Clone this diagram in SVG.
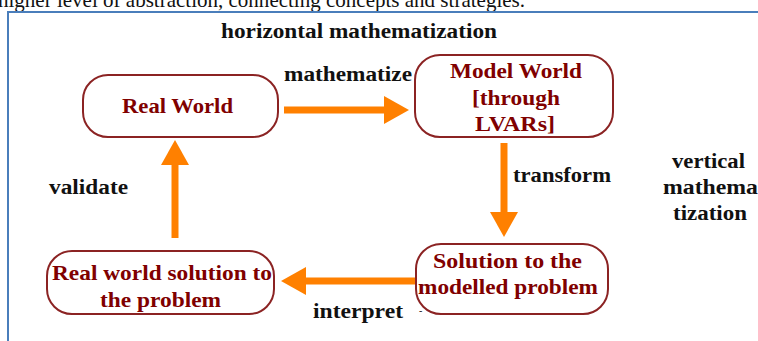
<svg xmlns="http://www.w3.org/2000/svg" width="758" height="341" viewBox="0 0 758 341">
<style>
  .frame{stroke:#4a7ebb;stroke-width:2;fill:none}
  .node{fill:#fff;stroke:#8b2323;stroke-width:2}
  .nt{font-family:"Liberation Serif","Times New Roman",serif;font-weight:bold;font-size:21px;fill:#800000;text-anchor:start}
  .lbl{font-family:"Liberation Serif","Times New Roman",serif;font-weight:bold;font-size:20px;fill:#111}
  .arr{stroke:#ff8000;stroke-width:7;fill:none}
  .top{font-family:"Liberation Serif","Times New Roman",serif;font-size:22px;fill:#111}
</style>
<defs>
  <marker id="head" markerUnits="userSpaceOnUse" markerWidth="26" markerHeight="30" refX="1" refY="14" orient="auto">
    <path d="M0,0 L25,14 L0,28 z" fill="#ff8000"/>
  </marker>
</defs>
<rect width="758" height="341" fill="#fff"/>
<text class="top" x="-2" y="7" textLength="527" lengthAdjust="spacingAndGlyphs">higher level of abstraction, connecting concepts and strategies.</text>
<path class="frame" d="M8,341 V12 H758"/>

<g id="connectors">
  <line class="arr" x1="284" y1="110" x2="385" y2="110" marker-end="url(#head)"/>
  <line class="arr" x1="504" y1="143" x2="504" y2="213" marker-end="url(#head)"/>
  <line class="arr" x1="416" y1="281" x2="305" y2="281" marker-end="url(#head)"/>
  <line class="arr" x1="175" y1="238" x2="175" y2="164" marker-end="url(#head)"/>
</g>

<g id="labels">
  <text class="lbl" x="221" y="38" textLength="276" lengthAdjust="spacingAndGlyphs">horizontal mathematization</text>
  <text class="lbl" x="284" y="81" textLength="128" lengthAdjust="spacingAndGlyphs">mathematize</text>
  <text class="lbl" x="513" y="182" textLength="98" lengthAdjust="spacingAndGlyphs">transform</text>
  <text class="lbl" x="313" y="318" textLength="90" lengthAdjust="spacingAndGlyphs">interpret</text>
  <text class="lbl" x="49" y="194" textLength="79" lengthAdjust="spacingAndGlyphs">validate</text>
  <text class="lbl" x="672" y="168" textLength="73" lengthAdjust="spacingAndGlyphs">vertical</text>
  <text class="lbl" x="663" y="194" textLength="95" lengthAdjust="spacingAndGlyphs">mathema</text>
  <text class="lbl" x="673" y="220" textLength="74" lengthAdjust="spacingAndGlyphs">tization</text>
  <text class="lbl" x="419" y="314" style="font-size:10px;font-weight:normal">-</text>
</g>

<g id="real-world">
  <rect class="node" x="83" y="75" width="195" height="62" rx="25"/>
  <text class="nt" x="122" y="113" textLength="111" lengthAdjust="spacingAndGlyphs">Real World</text>
</g>

<g id="model-world">
  <rect class="node" x="415" y="55" width="198" height="82" rx="25"/>
  <text class="nt" x="450" y="78" textLength="132" lengthAdjust="spacingAndGlyphs">Model World</text>
  <text class="nt" x="472" y="105" textLength="88" lengthAdjust="spacingAndGlyphs">[through</text>
  <text class="nt" x="475" y="131" textLength="80" lengthAdjust="spacingAndGlyphs">LVARs]</text>
</g>

<g id="solution-modelled">
  <rect class="node" x="416" y="244" width="192" height="70" rx="25"/>
  <text class="nt" x="433" y="268" textLength="149" lengthAdjust="spacingAndGlyphs">Solution to the</text>
  <text class="nt" x="418" y="294" textLength="180" lengthAdjust="spacingAndGlyphs">modelled problem</text>
</g>

<g id="real-world-solution">
  <rect class="node" x="47" y="251" width="227" height="63" rx="25"/>
  <text class="nt" x="52" y="280" textLength="220" lengthAdjust="spacingAndGlyphs">Real world solution to</text>
  <text class="nt" x="100" y="307" textLength="121" lengthAdjust="spacingAndGlyphs">the problem</text>
</g>
</svg>
